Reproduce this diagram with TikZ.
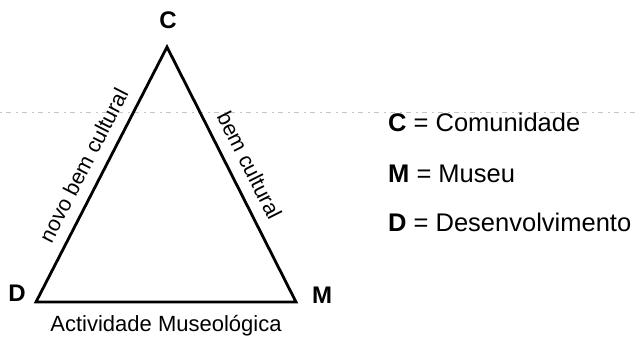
\documentclass[tikz,border=0pt]{standalone}
\usepackage{fontspec}
\setmainfont{Liberation Sans}
\begin{document}
\begin{tikzpicture}[x=1pt,y=1pt,
  edge/.style={line width=2.8pt},
  vlabel/.style={font=\fontsize{24}{28}\selectfont\bfseries, inner sep=0pt},
  elabel/.style={font=\fontsize{21.5}{25}\selectfont, inner sep=0pt, sloped, midway},
  legend/.style={font=\fontsize{25.5}{30}\selectfont, anchor=base west, inner sep=0pt},
  fold/.style={gray!45, line width=0.6pt, dash pattern=on 2pt off 4pt on 5pt off 5pt}]
\useasboundingbox (0,0) rectangle (643,337);
\coordinate (f1) at (0,224.5);
\coordinate (f2) at (640,224.5);
\draw[fold] (f1) -- (f2);
\coordinate (C) at (167,290);
\coordinate (D) at (36,35);
\coordinate (M) at (296,35);
\draw[edge] (D) -- node[elabel, above=11pt] (nbc) {novo bem cultural} (C)
  -- node[elabel, above=11pt] (bc) {bem cultural} (M) -- cycle;
\node[vlabel] (cl) at (168,316.5) {C};
\node[vlabel] (dl) at (17,44) {D};
\node[vlabel] (ml) at (322,42) {M};
\node[font=\fontsize{22}{26}\selectfont, anchor=base, inner sep=0pt] (al) at (166,5) {Actividade Museológica};
\node[legend] (lc) at (388,205) {\textbf{C} = Comunidade};
\node[legend] (lm) at (388,154.5) {\textbf{M} = Museu};
\node[legend] (ld) at (388,105) {\textbf{D} = Desenvolvimento};
\end{tikzpicture}
\end{document}
